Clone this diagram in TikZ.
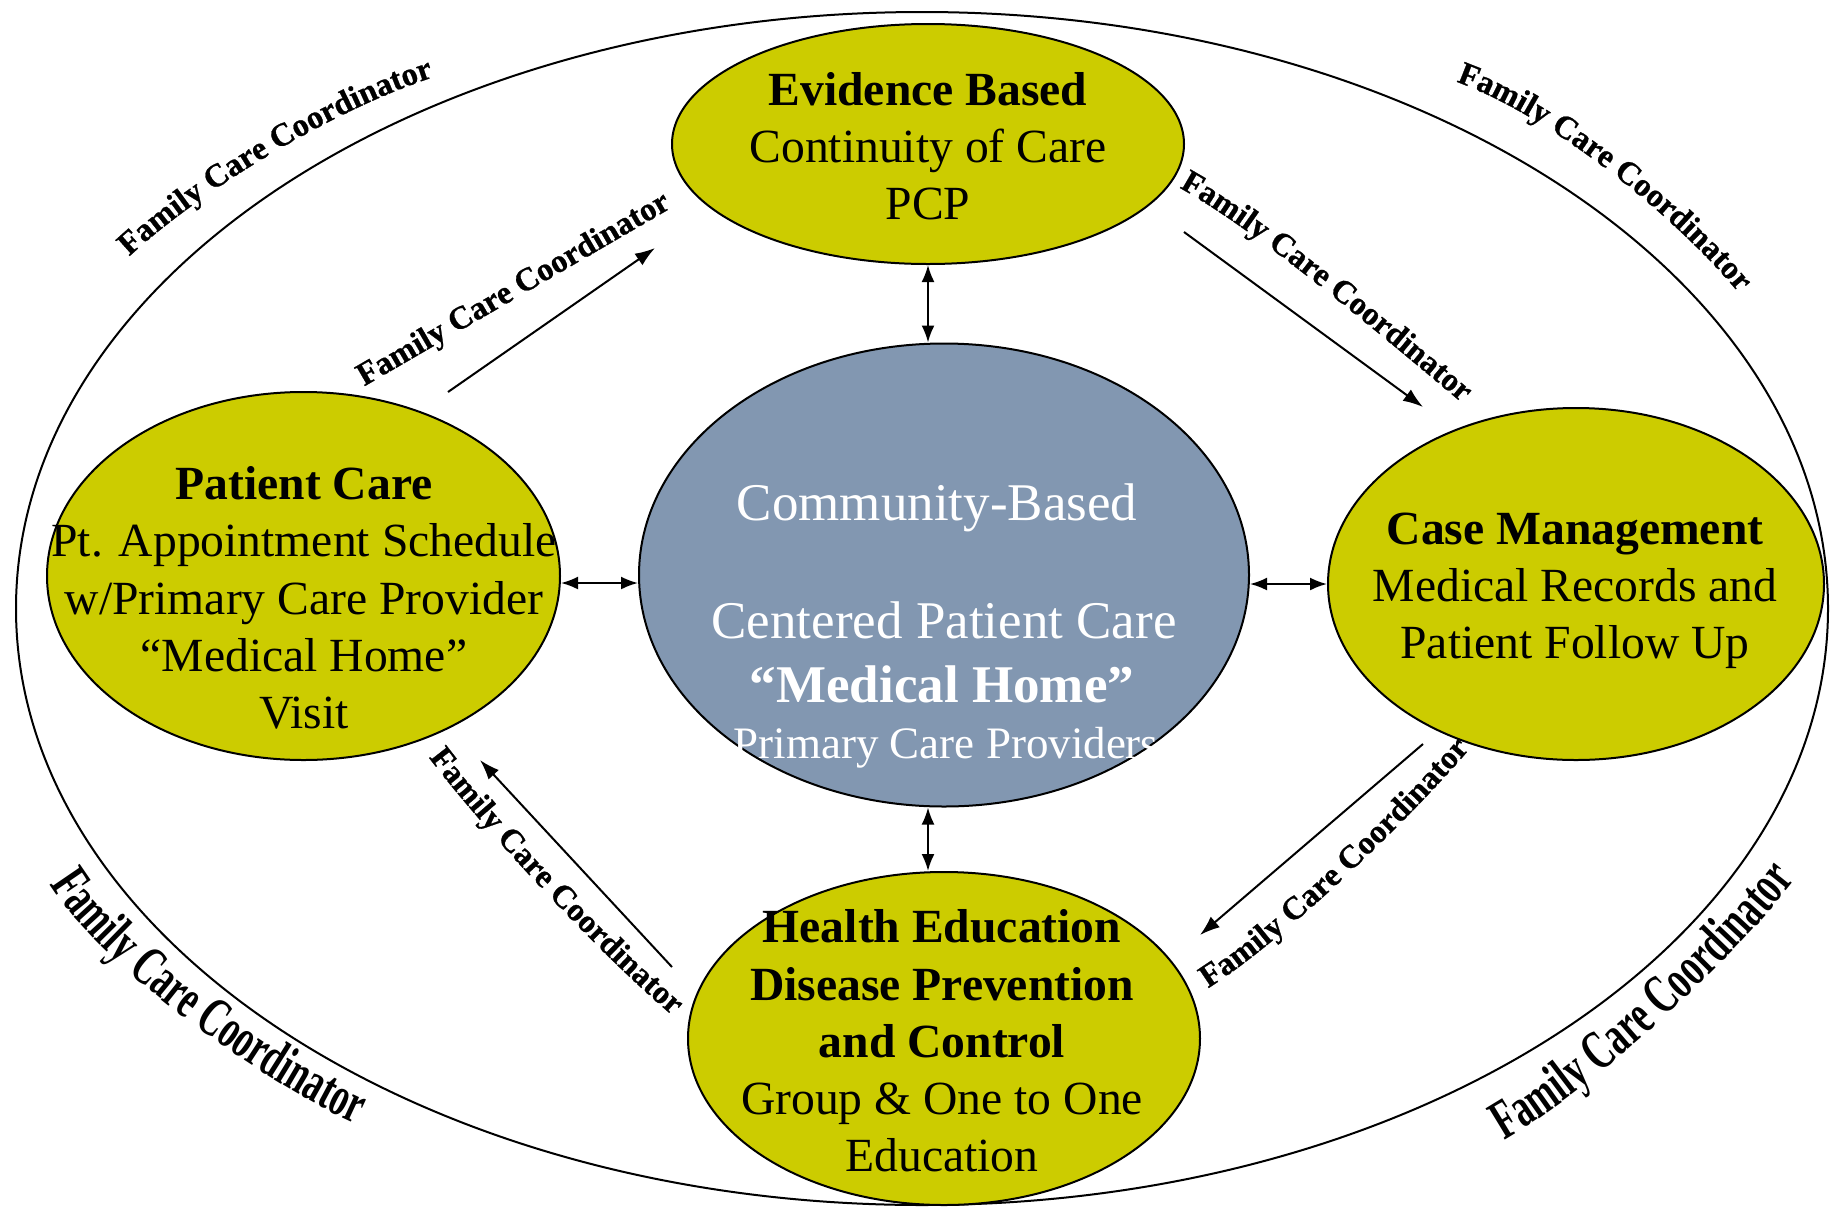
\documentclass[tikz,border=0pt]{standalone}
\usepackage{fontspec}
\setmainfont{Liberation Serif}
\newfontfamily\tallfont[FakeStretch=0.64]{Liberation Serif}
\newfontfamily\fccfamily[FakeBold=0.8]{Liberation Serif}
\usetikzlibrary{shapes.geometric,arrows.meta,decorations.text}
\definecolor{ygreen}{RGB}{204,204,0}
\definecolor{cenblue}{RGB}{130,151,177}
\newcommand\fccfont{\fccfamily\bfseries\fontsize{32.5}{38}\selectfont}
\newcommand\fccbigfont{\tallfont\bfseries\fontsize{56}{60}\selectfont}
\begin{document}
\begin{tikzpicture}[x=1pt,y=-1pt,
  ell/.style={ellipse, draw=black, line width=2pt, inner sep=0pt},
  yell/.style={ell, fill=ygreen},
  body/.style={font=\fontsize{47.6}{57.2}\selectfont, align=center, text=black, inner sep=0pt},
  ctext/.style={text=white, anchor=base, inner sep=0pt},
  dbl/.style={{Latex[length=17pt,width=13pt]}-{Latex[length=17pt,width=13pt]}, line width=2pt},
  flow/.style={-{Latex[length=20pt,width=14pt]}, line width=2pt},
  fcc/.style={decorate, decoration={text along path, text align=center, text={|\fccfont|Family Care Coordinator}}},
  fccbig/.style={decorate, decoration={text along path, text align=center, text={|\fccbigfont|Family Care Coordinator}}}
]
\useasboundingbox (0,0) rectangle (1832,1208);
\fill[white] (0,0) rectangle (1832,1208);

% outer ellipse
\node[ell, minimum width=1812pt, minimum height=1193pt] (outer) at (922,608.5) {};

% ellipses
\node[yell, minimum width=512pt, minimum height=240pt] (ev) at (928,144) {};
\node[ell, fill=cenblue, minimum width=610pt, minimum height=463pt] (cen) at (944,575) {};
\node[yell, minimum width=513pt, minimum height=368pt] (pc) at (303.5,576) {};
\node[yell, minimum width=496pt, minimum height=352pt] (cm) at (1576,584) {};
\node[yell, minimum width=512pt, minimum height=333pt] (he) at (944,1038.5) {};

% texts
\node[body] (evt) at (928,146) {\textbf{Evidence Based}\\Continuity of Care\\PCP};
\node[body] (pct) at (304,598) {\textbf{Patient Care}\\Pt. Appointment Schedule\\w/Primary Care Provider\\“Medical Home”\\Visit};
\node[body] (cmt) at (1575,591) {\textbf{Case Management}\\Medical Records and\\Patient Follow Up};
\node[body] (het) at (942,1041) {\textbf{Health Education}\\\textbf{Disease Prevention}\\\textbf{and Control}\\Group \& One to One\\Education};

\node[ctext, font=\fontsize{53}{60}\selectfont] (c1) at (937,520) {Community-Based};
\node[ctext, font=\fontsize{53}{60}\selectfont] (c2) at (944,638) {Centered Patient Care};
\node[ctext, font=\fontsize{53}{60}\selectfont\bfseries] (c3) at (942,702) {“Medical Home”};
\node[ctext, font=\fontsize{45}{52}\selectfont] (c4) at (946,758) {Primary Care Providers};

% double arrows
\draw[dbl] (ev.south) -- (ev.south |- cen.north);
\draw[dbl] (ev.south |- cen.south) -- (ev.south |- he.north);
\draw[dbl] ([yshift=-7pt]pc.east) -- ([yshift=-7pt]pc.east -| cen.west);
\draw[dbl] (cen.east |- cm.west) -- (cm.west);

% flow arrows
\coordinate (a1s) at (448,392); \coordinate (a1e) at (655,248);
\coordinate (a2s) at (1184,232); \coordinate (a2e) at (1423,407);
\coordinate (a3s) at (1423,744); \coordinate (a3e) at (1200,935);
\coordinate (a4s) at (672,967); \coordinate (a4e) at (480,760);
\draw[flow] (a1s) -- (a1e);
\draw[flow] (a2s) -- (a2e);
\draw[flow] (a3s) -- (a3e);
\draw[flow] (a4s) -- (a4e);

% labels along paths
\path[fcc] (101,282) -- (133,253) .. controls (207,186) and (336,109) .. (431,78) -- (470,66);
\path[fcc] (1419,68) -- (1457,82) .. controls (1551,116) and (1674,215) .. (1738,292) -- (1764,323);
\path[fccbig] (36,863) -- (52,888) .. controls (100,964) and (252,1076) .. (352,1122) -- (379,1135);
\path[fccbig] (1479,1155) -- (1505,1140) .. controls (1592,1090) and (1727,967) .. (1795,880) -- (1813,856);

\path[fcc] (334,404) -- (702,190);
\path[fcc] (1152,172) -- (1187,192) .. controls (1265,237) and (1386,339) .. (1455,397) -- (1486,423);
\path[fcc] (1162,1015) -- (1197,995) .. controls (1275,950) and (1414,816) .. (1478,739) -- (1504,708);
\path[fcc] (393,707) -- (416,740) .. controls (468,814) and (610,967) .. (689,1029) -- (721,1054);
\end{tikzpicture}
\end{document}
